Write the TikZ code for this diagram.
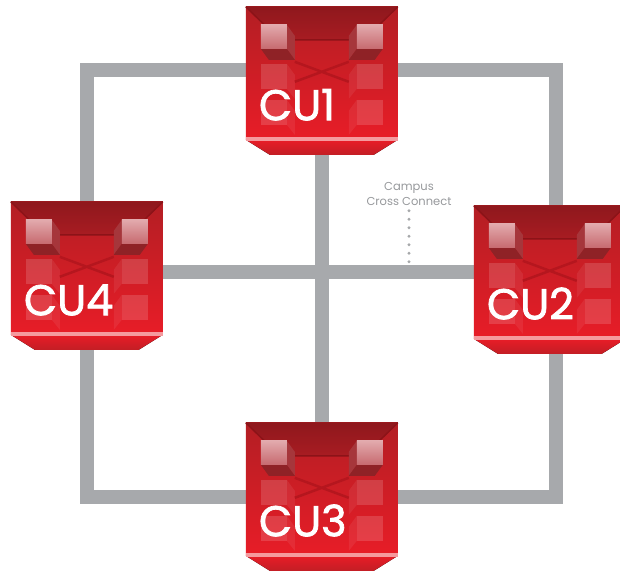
\documentclass[tikz,border=0pt]{standalone}
\usepackage{fontspec}
\setmainfont{Poppins}
\newfontfamily\cufont{Poppins}[FakeBold=1.8]
\pgfdeclarelayer{wires}
\pgfdeclarelayer{boxes}
\pgfsetlayers{wires,boxes,main}
\definecolor{wiregray}{HTML}{A7A9AC}
\definecolor{labelgray}{HTML}{96989B}
\definecolor{cutop}{HTML}{B31E24}
\definecolor{cubot}{HTML}{E81D27}
\definecolor{cuface}{HTML}{A81C22}
\definecolor{cuedge}{HTML}{8C1318}
\definecolor{cupink}{HTML}{F59A9E}
\definecolor{cucross}{HTML}{B5161E}
\definecolor{cubelite}{HTML}{E2AAAD}
\definecolor{cubemid}{HTML}{C76A6F}
\definecolor{cubeside}{HTML}{A6363B}
\definecolor{cubelow}{HTML}{8F2226}

% body of one CU box, drawn in pixel units from its top left corner
\newcommand\cubody{%
\fill[top color=cutop,bottom color=cubot] (0,0) rectangle (152,133);
\fill[top color=cuface!85!black,bottom color=cuface] (0,0) -- (152,0) -- (118,33) -- (34,33) -- cycle;
\draw[cuedge,line width=1.5pt] (0,0) -- (34,33) -- (118,33) -- (152,0);
\fill[top color=cubot,bottom color=cutop!70!cubot] (0,133) -- (152,133) -- (128,148) -- (24,148) -- cycle;
\fill[cupink] (0,130) rectangle (152,134);
\foreach \xo/\xi/\d in {15/41/8,137/111/-8}{
  \foreach \y in {57,93}{
    \fill[white,opacity=.15] (\xo,\y) rectangle (\xi,\y+25);
    \fill[white,opacity=.07] (\xi,\y) -- ++(\d,11) -- ++(0,24) -- (\xi,\y+25) -- cycle;
  }
}
\draw[cucross,line width=2.5pt] (49,55) -- (103,75) (103,55) -- (49,75);
\foreach \xo/\xi/\d in {15/41/8,137/111/-8}{
  \fill[cubeside] (\xi,18) -- ++(\d,11) -- ++(0,24) -- (\xi,42) -- cycle;
  \fill[cubelow] (\xo,42) -- (\xi,42) -- ++(\d,11) -- ++({\xo-\xi},0) -- cycle;
  \fill[top color=cubelite,bottom color=cubemid] (\xo,18) rectangle (\xi,42);
}}

\begin{document}
\begin{tikzpicture}[x=1pt,y=-1pt,
  cu/.style={rectangle,inner sep=0pt,minimum width=152pt,minimum height=148pt,
    label={[cutext]south west:#1}},
  cutext/.style={anchor=base west,xshift=13pt,yshift=35pt,inner sep=0pt,text=white,
    font=\cufont\fontsize{43}{43}\selectfont},
  wire/.style={wiregray,line width=14pt},
  dots/.style={labelgray!85,line width=3.2pt,line cap=round,dash pattern=on 0pt off 8.5pt}]
\useasboundingbox (0,0) rectangle (620,570);
\coordinate (nw) at (87,70);
\coordinate (ne) at (556,70);
\coordinate (sw) at (87,497);
\coordinate (se) at (556,497);
\coordinate (hub) at (322,272);
\node[cu=CU1] (cu1) at (322,81) {};
\node[cu=CU4] (cu4) at (87,276) {};
\node[cu=CU2] (cu2) at (550,280) {};
\node[cu=CU3] (cu3) at (322,497) {};
\node[font=\fontsize{11.5}{15}\selectfont,text=labelgray,align=center,inner sep=1pt] (cc) at (409,194) {Campus\\Cross Connect};
\begin{pgfonlayer}{boxes}
\foreach \n in {cu1,cu2,cu3,cu4}{
  \begin{scope}[shift={(\n.north west)}]
  \cubody
  \end{scope}
}
\end{pgfonlayer}
\begin{pgfonlayer}{wires}
\draw[dots] ([yshift=-4pt]cc.south) -- (cc.south |- hub);
\draw[wire] (cu1 |- nw) -- (nw) -- (cu4);
\draw[wire] (cu1 |- ne) -- (ne) -- (ne |- cu2);
\draw[wire] (cu4) -- (sw) -- (se) -- (se |- cu2);
\draw[wire] (cu1) -- (cu3);
\draw[wire] (cu4 |- hub) -- (cu2 |- hub);
\end{pgfonlayer}
\end{tikzpicture}
\end{document}
